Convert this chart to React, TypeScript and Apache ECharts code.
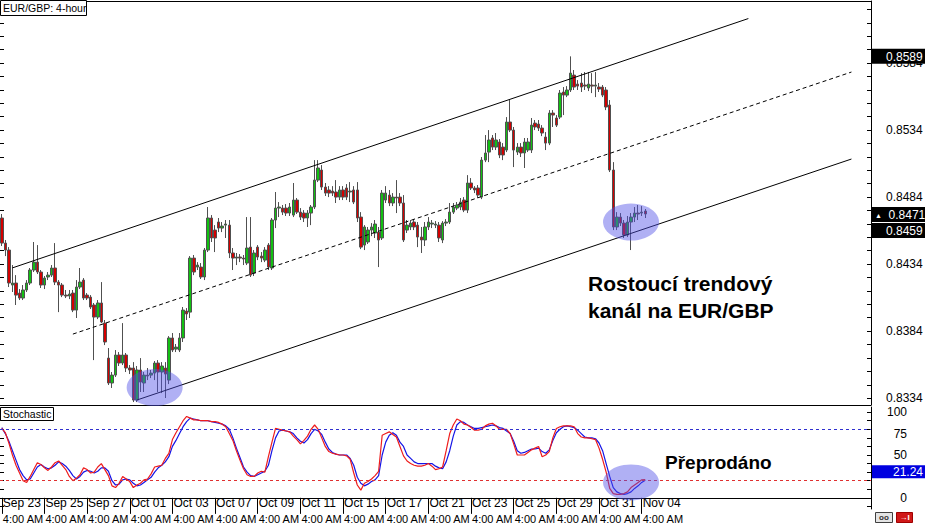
import React, { useEffect, useRef } from 'react';
import * as echarts from 'echarts';

// ---------- data ----------
const dateLabels = ['Sep 23', 'Sep 25', 'Sep 27', 'Oct 01', 'Oct 03', 'Oct 07', 'Oct 09', 'Oct 11', 'Oct 15', 'Oct 17', 'Oct 21', 'Oct 23', 'Oct 25', 'Oct 29', 'Oct 31', 'Nov 04'];
const timeLabel = '4:00 AM';
const barsPerLabel = 12;
const totalSlots = 245;

// [open, close, low, high]
const ohlc: number[][] = [
  [0.84684, 0.84497, 0.84475, 0.84714], [0.84497, 0.84445, 0.8440, 0.8452], [0.84445, 0.84199, 0.84169, 0.84467], [0.84184, 0.84199, 0.84132, 0.84333], [0.84199, 0.84109, 0.84035, 0.84258],
  [0.84124, 0.84087, 0.84072, 0.84154], [0.84087, 0.84147, 0.84072, 0.84184], [0.84147, 0.84199, 0.84132, 0.84221], [0.84199, 0.84296, 0.84184, 0.84311], [0.84296, 0.84355, 0.84281, 0.84505],
  [0.84355, 0.84281, 0.84266, 0.84482], [0.84281, 0.84184, 0.84162, 0.84296], [0.84184, 0.84236, 0.84154, 0.84251], [0.84244, 0.84258, 0.84221, 0.84281], [0.84258, 0.84311, 0.84244, 0.84333],
  [0.84311, 0.84206, 0.84184, 0.84497], [0.84206, 0.84184, 0.83982, 0.84221], [0.84184, 0.84109, 0.84094, 0.84199], [0.84109, 0.84102, 0.84087, 0.84147], [0.84102, 0.84117, 0.84079, 0.84147],
  [0.84124, 0.83997, 0.83982, 0.84147], [0.83997, 0.84169, 0.83938, 0.84221], [0.84169, 0.84206, 0.84154, 0.84311], [0.84221, 0.84087, 0.84072, 0.84236], [0.84109, 0.84087, 0.84072, 0.84124],
  [0.84094, 0.8402, 0.84005, 0.84109], [0.84035, 0.83945, 0.83624, 0.8405], [0.83945, 0.8405, 0.8393, 0.84072], [0.8405, 0.83908, 0.839, 0.84206], [0.839, 0.83759, 0.83736, 0.83923],
  [0.83639, 0.83453, 0.83438, 0.83714], [0.83453, 0.83512, 0.83416, 0.83535], [0.83512, 0.83662, 0.83498, 0.83699], [0.83662, 0.83602, 0.8358, 0.83684], [0.83602, 0.83662, 0.83587, 0.839],
  [0.83662, 0.83565, 0.83535, 0.83677], [0.83565, 0.8355, 0.8352, 0.83587], [0.83565, 0.83326, 0.83311, 0.83609], [0.83326, 0.8355, 0.83311, 0.8358], [0.8355, 0.8346, 0.83386, 0.83639],
  [0.83453, 0.83512, 0.83386, 0.83535], [0.83512, 0.83505, 0.83475, 0.83565], [0.83512, 0.83527, 0.8349, 0.8355], [0.83527, 0.83602, 0.83475, 0.83617], [0.83602, 0.83535, 0.83386, 0.83624],
  [0.83535, 0.8358, 0.83378, 0.83609], [0.83565, 0.8352, 0.83341, 0.83609], [0.83475, 0.83789, 0.83445, 0.83803], [0.83789, 0.83699, 0.83684, 0.83826], [0.83706, 0.83721, 0.83684, 0.83744],
  [0.83699, 0.83789, 0.83684, 0.83826], [0.83789, 0.83997, 0.83759, 0.8402], [0.8399, 0.83968, 0.83923, 0.84012], [0.83982, 0.84385, 0.83938, 0.844], [0.84385, 0.84281, 0.84258, 0.84408],
  [0.84318, 0.84333, 0.84296, 0.84355], [0.84318, 0.84244, 0.84229, 0.84348], [0.84244, 0.84445, 0.84221, 0.8446], [0.84445, 0.84684, 0.8443, 0.84766], [0.84684, 0.84535, 0.84505, 0.84706],
  [0.84594, 0.84535, 0.8443, 0.84631], [0.84654, 0.84609, 0.84579, 0.84684], [0.84609, 0.84624, 0.84579, 0.84654], [0.84631, 0.84639, 0.84535, 0.84669], [0.84631, 0.84423, 0.84385, 0.84669],
  [0.84423, 0.84385, 0.84296, 0.8446], [0.84385, 0.84393, 0.84333, 0.84423], [0.84393, 0.84385, 0.84355, 0.84415], [0.84385, 0.84378, 0.84333, 0.84408], [0.84348, 0.8446, 0.84333, 0.84691],
  [0.84467, 0.84258, 0.84244, 0.84691], [0.84273, 0.84423, 0.84251, 0.84445], [0.84467, 0.84393, 0.8437, 0.84482], [0.844, 0.84385, 0.84355, 0.8443], [0.8437, 0.84445, 0.84355, 0.84467],
  [0.84482, 0.84318, 0.84296, 0.84497], [0.84311, 0.84669, 0.84296, 0.84684], [0.84669, 0.84758, 0.84609, 0.84878], [0.84758, 0.84766, 0.84691, 0.84803], [0.84758, 0.84728, 0.84706, 0.84781],
  [0.84758, 0.84721, 0.84699, 0.84788], [0.84721, 0.84766, 0.84699, 0.84796], [0.84706, 0.84818, 0.84691, 0.84945], [0.84818, 0.84728, 0.84714, 0.84833], [0.84728, 0.84691, 0.84669, 0.84758],
  [0.84721, 0.84684, 0.84654, 0.84743], [0.84684, 0.84721, 0.84617, 0.84743], [0.84721, 0.84766, 0.84631, 0.84781], [0.84766, 0.84967, 0.84751, 0.85116], [0.84967, 0.85057, 0.84952, 0.85116],
  [0.85042, 0.84915, 0.84893, 0.85079], [0.84915, 0.8487, 0.84848, 0.84945], [0.84893, 0.8487, 0.8484, 0.84922], [0.84885, 0.8487, 0.84848, 0.84922], [0.84878, 0.8484, 0.84796, 0.84967],
  [0.8484, 0.84893, 0.84818, 0.84922], [0.84893, 0.8484, 0.84818, 0.84922], [0.84908, 0.8484, 0.84818, 0.84937], [0.84878, 0.84885, 0.84803, 0.84952], [0.84893, 0.84803, 0.84788, 0.84922],
  [0.84893, 0.84684, 0.84654, 0.84952], [0.84691, 0.84467, 0.84452, 0.84728], [0.84482, 0.84617, 0.84445, 0.84631], [0.84505, 0.84594, 0.8449, 0.84617], [0.84594, 0.84617, 0.84549, 0.84646],
  [0.84572, 0.84639, 0.84535, 0.84669], [0.84579, 0.8452, 0.84318, 0.84617], [0.84535, 0.8487, 0.8452, 0.84893], [0.84818, 0.8487, 0.84796, 0.84922], [0.84855, 0.84796, 0.84773, 0.84893],
  [0.84796, 0.8484, 0.84773, 0.8487], [0.8484, 0.84833, 0.84721, 0.84967], [0.8484, 0.84796, 0.84773, 0.8487], [0.84796, 0.8452, 0.84505, 0.84855], [0.84594, 0.84631, 0.84572, 0.84669],
  [0.84617, 0.84646, 0.84594, 0.84669], [0.84654, 0.84617, 0.84594, 0.84676], [0.84631, 0.84542, 0.84467, 0.84654], [0.84542, 0.8452, 0.84423, 0.84617], [0.8452, 0.84617, 0.84475, 0.84654],
  [0.84617, 0.84654, 0.84594, 0.84691], [0.84639, 0.84646, 0.84609, 0.84669], [0.84631, 0.84639, 0.84609, 0.84661], [0.84631, 0.84535, 0.84505, 0.84654], [0.8452, 0.84646, 0.84497, 0.84661],
  [0.84646, 0.84654, 0.84624, 0.84676], [0.84654, 0.84728, 0.84639, 0.84796], [0.84728, 0.84766, 0.84714, 0.84796], [0.84758, 0.84781, 0.84743, 0.84803], [0.84766, 0.84803, 0.84743, 0.84833],
  [0.84818, 0.84743, 0.84728, 0.8484], [0.84743, 0.84945, 0.84721, 0.85004], [0.84945, 0.84908, 0.84893, 0.84982], [0.84908, 0.84893, 0.8487, 0.84922], [0.84908, 0.84855, 0.84833, 0.8493],
  [0.8484, 0.85116, 0.84825, 0.85139], [0.85116, 0.85169, 0.85101, 0.85303], [0.85176, 0.85266, 0.85101, 0.8534], [0.85281, 0.85213, 0.85191, 0.85303], [0.85213, 0.85266, 0.85191, 0.85318],
  [0.85251, 0.85154, 0.85131, 0.85273], [0.85213, 0.85154, 0.85116, 0.85243], [0.85191, 0.854, 0.85176, 0.85437], [0.854, 0.8534, 0.85325, 0.85564], [0.8534, 0.85191, 0.85064, 0.85363],
  [0.85176, 0.85213, 0.85154, 0.85243], [0.85213, 0.85169, 0.85139, 0.85243], [0.85169, 0.85251, 0.85057, 0.85281], [0.85191, 0.85251, 0.85176, 0.85281], [0.85191, 0.85377, 0.85169, 0.8543],
  [0.85392, 0.85363, 0.8534, 0.85415], [0.85385, 0.85355, 0.85333, 0.85415], [0.85355, 0.85318, 0.85295, 0.85377], [0.85288, 0.85243, 0.85191, 0.85325], [0.85243, 0.85467, 0.85228, 0.85489],
  [0.85467, 0.85452, 0.85363, 0.85489], [0.8543, 0.85377, 0.85363, 0.85452], [0.85437, 0.85616, 0.85422, 0.85639], [0.85624, 0.85601, 0.85452, 0.85661], [0.85601, 0.85639, 0.85586, 0.85668],
  [0.85639, 0.85765, 0.85624, 0.8589], [0.8575, 0.85661, 0.85639, 0.85788], [0.85683, 0.85668, 0.85639, 0.85713], [0.85691, 0.85661, 0.85624, 0.85765], [0.85676, 0.85668, 0.85639, 0.85773],
  [0.85654, 0.85683, 0.85631, 0.85773], [0.85676, 0.85668, 0.85616, 0.85765], [0.85668, 0.85676, 0.85586, 0.85773], [0.85661, 0.85646, 0.85624, 0.85691], [0.85661, 0.85601, 0.85586, 0.85676],
  [0.85639, 0.85512, 0.85489, 0.85661], [0.85527, 0.85042, 0.85027, 0.85564], [0.85042, 0.84617, 0.84594, 0.85101], [0.84617, 0.84691, 0.84594, 0.84728], [0.84691, 0.84646, 0.84624, 0.84721],
  [0.84646, 0.84557, 0.84535, 0.84669], [0.84557, 0.84654, 0.84542, 0.84699], [0.84654, 0.84691, 0.84445, 0.84721], [0.84691, 0.84721, 0.84654, 0.84766], [0.84721, 0.84714, 0.84669, 0.84781],
  [0.84721, 0.84728, 0.84699, 0.84773], [0.84736, 0.84714, 0.84684, 0.84751],
];

// Stochastic %K (red) and %D (blue)
const stochMain = [
  81, 76, 64, 50, 38, 29, 20, 18, 25, 33, 41, 39, 35, 32, 36, 41, 43, 38, 33, 25,
  20, 23, 27, 35, 33, 29, 30, 36, 40, 33, 26, 14, 12, 17, 25, 22, 19, 12, 15, 17,
  21, 22, 28, 36, 37, 38, 46, 52, 68, 76, 83, 90, 95, 93, 91, 91, 90, 90, 90, 89,
  89, 88, 86, 83, 75, 67, 55, 44, 34, 27, 25, 25, 29, 31, 30, 48, 65, 81, 80, 79,
  78, 77, 72, 68, 63, 67, 72, 80, 85, 80, 70, 60, 54, 52, 51, 50, 50, 49, 45, 29,
  15, 9, 17, 19, 22, 26, 31, 73, 75, 77, 74, 71, 60, 49, 43, 40, 38, 37, 37, 38,
  40, 37, 33, 34, 36, 55, 75, 85, 92, 90, 86, 85, 82, 79, 79, 80, 84, 86, 87, 84,
  80, 80, 80, 75, 63, 50, 50, 50, 53, 56, 58, 60, 48, 50, 54, 70, 81, 83, 84, 84,
  84, 83, 75, 71, 70, 70, 69, 68, 58, 45, 30, 11, 5, 4, 4, 5, 7, 12, 15, 18,
  21, 21.24,
];
const stochSignal = [
  82, 75, 66, 55, 44, 33, 26, 21, 22, 29, 36, 39, 36, 34, 35, 38, 42, 40, 37, 32,
  26, 22, 25, 30, 32, 31, 29, 31, 35, 35, 31, 20, 15, 16, 21, 22, 21, 17, 14, 15,
  18, 21, 24, 30, 35, 38, 42, 48, 60, 67, 75, 83, 89, 93, 92, 91, 90, 90, 90, 89,
  88, 87, 86, 84, 80, 70, 58, 47, 36, 30, 26, 25, 27, 29, 31, 38, 55, 70, 78, 79,
  78, 77, 75, 70, 66, 64, 68, 75, 80, 78, 74, 65, 57, 53, 51, 50, 50, 50, 46, 38,
  24, 17, 14, 16, 19, 21, 26, 50, 65, 73, 76, 73, 65, 60, 50, 46, 42, 40, 40, 40,
  40, 40, 37, 35, 34, 42, 55, 72, 85, 89, 88, 85, 83, 81, 81, 82, 83, 84, 85, 84,
  82, 81, 78, 75, 66, 55, 52, 53, 55, 57, 57, 58, 54, 52, 56, 67, 76, 80, 83, 84,
  83, 82, 79, 75, 71, 70, 70, 69, 64, 55, 40, 25, 12, 7, 5, 4, 5, 7, 11, 14,
  18, 20.5,
];

const priceTicks = [0.8334, 0.8344, 0.8354, 0.8364, 0.8374, 0.8384, 0.8394, 0.8404, 0.8414, 0.8424, 0.8434, 0.8444, 0.8454, 0.8464, 0.8474, 0.8484, 0.8494, 0.8504, 0.8514, 0.8524, 0.8534, 0.8544, 0.8554, 0.8564, 0.8574, 0.8584, 0.8594, 0.8604, 0.8614, 0.8624];
const priceLabels = [0.8334, 0.8384, 0.8434, 0.8484, 0.8534, 0.8584];
const stochTicks = [-10, 0, 10, 20, 30, 40, 50, 60, 70, 80, 90, 100];
const stochLabels = [0, 50, 75, 100];
const stochLevels = [80, 20];
const priceBoxes = [0.8589, 0.8471, 0.8459];
const stochLast = 21.24;

// trend channel: [bar index, price]
const upperChannel = [[3, 0.84312], [210, 0.86172]];
const middleChannel = [[20, 0.83818], [239, 0.85773]];
const lowerChannel = [[38, 0.83326], [239, 0.85124]];

// highlighted zones: [bar index, value]
const priceZones = [[43, 0.83419], [177, 0.84654]];
const stochZone = [177, 18];

// ---------- chart ----------
const FONT = '"Liberation Sans", Arial, sans-serif';
const PRICE_MIN = 0.83289;
const PRICE_MAX = 0.86303;
const categories = Array.from({ length: totalSlots }, (_, i) => String(i));
const isLabelSlot = (i: number) => i % barsPerLabel === 0 && i / barsPerLabel < dateLabels.length;
const zoneColor = 'rgba(80,80,230,0.45)';
const hiddenLine = { color: 'rgba(0,0,0,0)', width: 1, type: 'solid' };

function buildOption(): any {
  return {
    animation: false,
    backgroundColor: '#fff',
    textStyle: { fontFamily: FONT },
    grid: [
      { left: 0, top: 1, width: 871, height: 404, outerBoundsMode: 'none' },
      { left: 0, top: 407, width: 871, height: 102, outerBoundsMode: 'none' },
    ],
    xAxis: [
      {
        type: 'category', gridIndex: 0, data: categories, boundaryGap: true,
        axisLine: { show: true, lineStyle: { color: '#000', width: 1 } },
        axisTick: { show: false }, axisLabel: { show: false }, splitLine: { show: false },
      },
      {
        type: 'category', gridIndex: 0, position: 'top', data: categories, boundaryGap: true,
        axisLine: { show: true, lineStyle: { color: '#000', width: 1 } },
        axisTick: { show: false }, axisLabel: { show: false }, splitLine: { show: false },
      },
      {
        type: 'category', gridIndex: 1, data: categories, boundaryGap: true,
        axisLine: { show: true, lineStyle: { color: '#000', width: 1 } },
        axisTick: {
          show: true, alignWithLabel: true, length: 16,
          interval: (i: number) => isLabelSlot(i),
          lineStyle: { color: '#000', width: 1 },
        },
        axisLabel: {
          show: true,
          interval: (i: number) => isLabelSlot(i),
          showMinLabel: true, showMaxLabel: true, hideOverlap: false,
          formatter: (_v: string, i: number) => (isLabelSlot(i) ? `{d|${dateLabels[i / barsPerLabel]}}\n{t|${timeLabel}}` : ''),
          align: 'left', verticalAlign: 'top', margin: -14, lineHeight: 16,
          color: '#000', fontFamily: FONT, padding: [0, 0, 0, 1],
          rich: {
            d: { fontSize: 12, lineHeight: 16, color: '#000', fontFamily: FONT },
            t: { fontSize: 11, lineHeight: 16, color: '#000', fontFamily: FONT },
          },
        },
        splitLine: { show: false },
      },
      {
        type: 'category', gridIndex: 1, position: 'top', data: categories, boundaryGap: true,
        axisLine: { show: true, lineStyle: { color: '#000', width: 1 } },
        axisTick: { show: false }, axisLabel: { show: false }, splitLine: { show: false },
      },
    ],
    yAxis: [
      {
        type: 'value', gridIndex: 0, position: 'right', min: PRICE_MIN, max: PRICE_MAX,
        axisLine: { show: true, lineStyle: { color: '#000', width: 1 } },
        axisTick: { show: true, inside: true, length: 4, customValues: priceTicks, lineStyle: { color: '#000' } },
        axisLabel: {
          show: true, customValues: priceLabels, formatter: (v: number) => v.toFixed(4),
          margin: 15, fontSize: 12, color: '#000', fontFamily: FONT, align: 'left',
        },
        splitLine: { show: false },
      },
      {
        type: 'value', gridIndex: 0, position: 'left', min: PRICE_MIN, max: PRICE_MAX,
        axisLine: { show: false },
        axisTick: { show: true, inside: true, length: 4, customValues: priceTicks, lineStyle: { color: '#000' } },
        axisLabel: { show: false }, splitLine: { show: false },
      },
      {
        type: 'value', gridIndex: 1, position: 'right', min: -13, max: 106,
        axisLine: { show: true, lineStyle: { color: '#000', width: 1 } },
        axisTick: { show: true, inside: true, length: 4, customValues: stochTicks, lineStyle: { color: '#000' } },
        axisLabel: {
          show: true, customValues: stochLabels, margin: 36, fontSize: 12, color: '#000',
          fontFamily: FONT, align: 'right',
        },
        splitLine: { show: false },
      },
      {
        type: 'value', gridIndex: 1, position: 'left', min: -13, max: 106,
        axisLine: { show: false },
        axisTick: { show: true, inside: true, length: 4, customValues: stochTicks, lineStyle: { color: '#000' } },
        axisLabel: { show: false }, splitLine: { show: false },
      },
    ],
    series: [
      {
        type: 'candlestick', xAxisIndex: 0, yAxisIndex: 0, data: ohlc, barWidth: 3,
        itemStyle: { color: '#12c012', color0: '#d40000', borderColor: '#505050', borderColor0: '#505050', borderWidth: 1 },
        silent: true,
        markPoint: {
          silent: true, animation: false,
          data: priceZones.map((c) => ({
            coord: c, symbol: 'circle', symbolSize: [56, 37],
            itemStyle: { color: zoneColor }, label: { show: false },
          })),
        },
        markLine: {
          silent: true, animation: false, symbol: ['none', 'none'], precision: 5,
          lineStyle: hiddenLine,
          data: priceBoxes.map((v, k) => ({
            yAxis: v,
            lineStyle: hiddenLine,
            label: {
              show: true, position: 'end', distance: 1,
              formatter: k === 1 ? `{t|▲}  ${v.toFixed(4)}` : v.toFixed(4),
              backgroundColor: '#000', color: '#fff', fontSize: 12, fontFamily: FONT,
              padding: k === 1 ? [2, 3, 1, 3] : [2, 3, 1, 14],
              rich: { t: { fontSize: 7, color: '#fff', fontFamily: FONT } },
            },
          })),
        },
      },
      {
        type: 'line', xAxisIndex: 0, yAxisIndex: 0, data: upperChannel, showSymbol: false, silent: true, z: 4,
        lineStyle: { color: '#000', width: 1 },
      },
      {
        type: 'line', xAxisIndex: 0, yAxisIndex: 0, data: middleChannel, showSymbol: false, silent: true, z: 4,
        lineStyle: { color: '#000', width: 1, type: [4, 3] },
      },
      {
        type: 'line', xAxisIndex: 0, yAxisIndex: 0, data: lowerChannel, showSymbol: false, silent: true, z: 4,
        lineStyle: { color: '#000', width: 1 },
      },
      {
        type: 'line', xAxisIndex: 2, yAxisIndex: 2, data: stochSignal, showSymbol: false, silent: true,
        lineStyle: { color: '#1414e6', width: 1.2 },
      },
      {
        type: 'line', xAxisIndex: 2, yAxisIndex: 2, data: stochMain, showSymbol: false, silent: true,
        lineStyle: { color: '#ee1c1c', width: 1.2 },
        markPoint: {
          silent: true, animation: false,
          data: [{ coord: stochZone, symbol: 'circle', symbolSize: [56, 36], itemStyle: { color: zoneColor }, label: { show: false } }],
        },
        markLine: {
          silent: true, animation: false, symbol: ['none', 'none'], precision: 2,
          data: [
            { yAxis: stochLevels[0], lineStyle: { color: '#3030d0', width: 1, type: [3, 3] }, label: { show: false } },
            { yAxis: stochLevels[1], lineStyle: { color: '#e03030', width: 1, type: [3, 3] }, label: { show: false } },
            {
              yAxis: stochLast, lineStyle: hiddenLine,
              label: {
                show: true, position: 'end', distance: 1, formatter: stochLast.toFixed(2), offset: [0, -8],
                backgroundColor: '#0000e0', color: '#fff', fontSize: 12, fontFamily: FONT, padding: [1, 3, 0, 21],
              },
            },
          ],
        },
      },
    ],
    graphic: [
      { type: 'rect', shape: { x: 0.5, y: 0.5, width: 86, height: 15 }, style: { fill: '#fff', stroke: '#000', lineWidth: 1 }, z: 10 },
      { type: 'text', x: 3, y: 8, style: { text: 'EUR/GBP: 4-hour', font: `10.5px ${FONT}`, fill: '#000', verticalAlign: 'middle' }, z: 11 },
      { type: 'rect', shape: { x: 0.5, y: 407.5, width: 53, height: 13 }, style: { fill: '#fff', stroke: '#000', lineWidth: 1 }, z: 10 },
      { type: 'text', x: 3, y: 414, style: { text: 'Stochastic', font: `10.5px ${FONT}`, fill: '#000', verticalAlign: 'middle' }, z: 11 },
      { type: 'text', x: 588, y: 283, style: { text: 'Rostoucí trendový', font: `bold 21px ${FONT}`, fill: '#000', verticalAlign: 'middle' }, z: 11 },
      { type: 'text', x: 588, y: 310, style: { text: 'kanál na EUR/GBP', font: `bold 21px ${FONT}`, fill: '#000', verticalAlign: 'middle' }, z: 11 },
      { type: 'text', x: 665, y: 462, style: { text: 'Přeprodáno', font: `bold 19px ${FONT}`, fill: '#000', verticalAlign: 'middle' }, z: 11 },
      { type: 'rect', shape: { x: 875.5, y: 512.5, width: 17, height: 10 }, style: { fill: '#e4e4e4', stroke: '#404040', lineWidth: 1 }, z: 10 },
      { type: 'text', x: 884, y: 517.5, style: { text: 'oo', font: `bold 8px ${FONT}`, fill: '#303030', align: 'center', verticalAlign: 'middle' }, z: 11 },
      { type: 'rect', shape: { x: 896.5, y: 512.5, width: 16, height: 10 }, style: { fill: '#d01818', stroke: '#a00000', lineWidth: 1 }, z: 10 },
      { type: 'text', x: 904.5, y: 517.5, style: { text: '→I', font: `bold 8px ${FONT}`, fill: '#fff', align: 'center', verticalAlign: 'middle' }, z: 11 },
    ],
  };
}

export default function App() {
  const ref = useRef<HTMLDivElement>(null);
  useEffect(() => {
    if (!ref.current) return;
    const chart = echarts.init(ref.current, null, { renderer: 'svg' });
    chart.setOption(buildOption());
    return () => chart.dispose();
  }, []);
  return (
    <div
      ref={ref}
      style={{ position: 'fixed', left: 0, top: 0, width: 925, height: 525, background: '#fff' }}
    />
  );
}
